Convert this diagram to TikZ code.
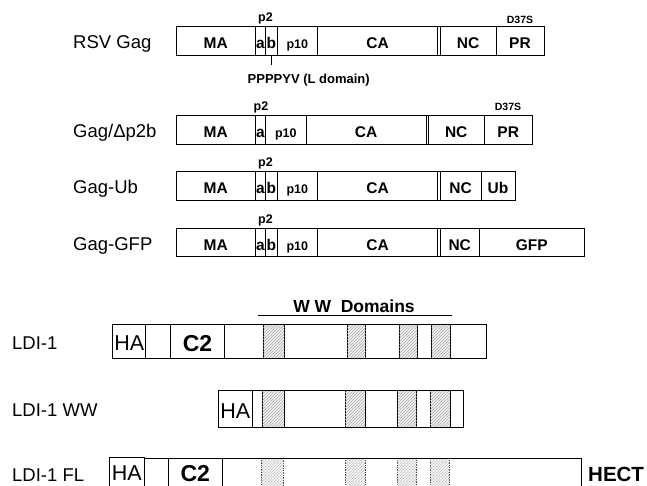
\documentclass[tikz,border=0pt]{standalone}
\usepackage{fontspec}
\setmainfont{Liberation Sans}
\usetikzlibrary{patterns}
\tikzset{
  box/.style={draw=black, line width=0.9pt},
  div/.style={draw=black, line width=0.75pt},
  seg/.style={font=\fontsize{15.5}{15.5}\selectfont\bfseries, inner sep=0pt, anchor=base},
  smalltxt/.style={font=\fontsize{12.5}{12.5}\selectfont\bfseries, inner sep=0pt, anchor=base},
  tinytxt/.style={font=\fontsize{10.5}{10.5}\selectfont\bfseries, inner sep=0pt, anchor=base},
  ldom/.style={font=\fontsize{13}{13}\selectfont\bfseries, inner sep=0pt, anchor=base},
  lab/.style={font=\fontsize{18.5}{18.5}\selectfont, inner sep=0pt, anchor=base west},
  hatxt/.style={font=\fontsize{21.5}{21.5}\selectfont, inner sep=0pt, anchor=base},
  bigtxt/.style={font=\fontsize{23}{23}\selectfont\bfseries, inner sep=0pt, anchor=base},
  wwtxt/.style={font=\fontsize{17.5}{17.5}\selectfont\bfseries, inner sep=0pt, anchor=base},
  hatch/.style={fill=gray!10, postaction={pattern=north east lines, pattern color=gray!65}},
  hatchbox/.style={hatch, draw=black, line width=0.9pt},
  hatchfl/.style={hatch, draw=gray!60!black, line width=0.7pt, densely dotted},
}
\begin{document}
\begin{tikzpicture}[x=1pt,y=-1pt]
\useasboundingbox (0,0) rectangle (647,486);
\clip (0,0) rectangle (647,486);

% ---------- Row 1: RSV Gag ----------
\draw[box] (176.5,26.5) rectangle (544,55.5);
\foreach \x in {255,265.7,277,317.7,437.5,440,496} \draw[div] (\x,26.5) -- (\x,55.5);
\node[lab] (l1) at (73,49) {RSV Gag};
\node[seg] (r1ma) at (215.75,49) {MA};
\node[seg] (r1a) at (260.35,49) {a};
\node[seg] (r1b) at (271.35,49) {b};
\node[smalltxt] (r1p10) at (297.35,49) {p10};
\node[seg] (r1ca) at (377.6,49) {CA};
\node[seg] (r1nc) at (468,49) {NC};
\node[seg] (r1pr) at (520,49) {PR};
\node[smalltxt] (r1p2) at (265.5,21.8) {p2};
\node[tinytxt] (r1d) at (520,23.5) {D37S};
\node[ldom] (ld) at (308.7,83.3) {PPPPYV (L domain)};
\coordinate (tkA) at (271.35,55.5);
\coordinate (tkB) at (271.35,65);
\draw[line width=0.6pt] (tkA) -- (tkB);

% ---------- Row 2: Gag/Dp2b ----------
\draw[box] (176.5,115) rectangle (532.5,144);
\foreach \x in {255,265.7,306,426,428.5,484} \draw[div] (\x,115) -- (\x,144);
\node[lab] (l2) at (73,137.5) {Gag/Δp2b};
\node[seg] (r2ma) at (215.75,137.5) {MA};
\node[seg] (r2a) at (260.35,137.5) {a};
\node[smalltxt] (r2p10) at (285.85,137.5) {p10};
\node[seg] (r2ca) at (366,137.5) {CA};
\node[seg] (r2nc) at (456.2,137.5) {NC};
\node[seg] (r2pr) at (508.25,137.5) {PR};
\node[smalltxt] (r2p2) at (261,111) {p2};
\node[tinytxt] (r2d) at (508,111) {D37S};

% ---------- Row 3: Gag-Ub ----------
\draw[box] (176.5,171) rectangle (515,200);
\foreach \x in {255,265.7,277,317.7,437.3,440,481} \draw[div] (\x,171) -- (\x,200);
\node[lab] (l3) at (73,193.5) {Gag-Ub};
\node[seg] (r3ma) at (215.75,193.5) {MA};
\node[seg] (r3a) at (260.35,193.5) {a};
\node[seg] (r3b) at (271.35,193.5) {b};
\node[smalltxt] (r3p10) at (297.35,193.5) {p10};
\node[seg] (r3ca) at (377.5,193.5) {CA};
\node[seg] (r3nc) at (460.5,193.5) {NC};
\node[seg] (r3ub) at (498,193.5) {Ub};
\node[smalltxt] (r3p2) at (265.5,167) {p2};

% ---------- Row 4: Gag-GFP ----------
\draw[box] (176.5,228) rectangle (584.3,256.5);
\foreach \x in {255,265.7,277,317.7,437.3,440,479.3} \draw[div] (\x,228) -- (\x,256.5);
\node[lab] (l4) at (73,250) {Gag-GFP};
\node[seg] (r4ma) at (215.75,250) {MA};
\node[seg] (r4a) at (260.35,250) {a};
\node[seg] (r4b) at (271.35,250) {b};
\node[smalltxt] (r4p10) at (297.35,250) {p10};
\node[seg] (r4ca) at (377.5,250) {CA};
\node[seg] (r4nc) at (459.7,250) {NC};
\node[seg] (r4gfp) at (531.8,250) {GFP};
\node[smalltxt] (r4p2) at (265.5,224) {p2};

% ---------- WW Domains ----------
\node[wwtxt] (ww) at (354,312.3) {W W\hspace{0.55em}Domains};
\coordinate (wwA) at (258.3,315.7);
\coordinate (wwB) at (451.7,315.7);
\draw[line width=1pt] (wwA) -- (wwB);

% ---------- LDI-1 ----------
\foreach \a/\b in {263.3/284.3,347.3/365.7,399.3/417.3,431.7/450.3}
  \draw[hatchbox] (\a,324) rectangle (\b,358.7);
\draw[box] (112.7,324) rectangle (486,358.7);
\foreach \x in {145.7,170.7,224.3} \draw[div] (\x,324) -- (\x,358.7);
\node[lab] (l5) at (12,349.3) {LDI-1};
\node[hatxt] (l5ha) at (129.2,350.7) {HA};
\node[bigtxt] (l5c2) at (197.5,351.7) {C2};

% ---------- LDI-1 WW ----------
\foreach \a/\b in {262.3/284,345/365,397.7/416.7,430/450}
  \draw[hatchbox] (\a,390.7) rectangle (\b,427.3);
\draw[box] (218.3,390.7) rectangle (463.3,427.3);
\draw[div] (252.3,390.7) -- (252.3,427.3);
\node[lab] (l6) at (12,416.7) {LDI-1 WW};
\node[hatxt] (l6ha) at (235.3,418.3) {HA};

% ---------- LDI-1 FL ----------
\foreach \a/\b in {261/283.3,345.7/365,397.3/416.7,430/449.3}
  \draw[hatchfl] (\a,458.3) rectangle (\b,500);
\draw[box] (109.3,457.5) rectangle (144,500);
\draw[box] (144,458.3) -- (581.7,458.3);
\foreach \x in {168.3,222.3,581.7} \draw[div] (\x,458.3) -- (\x,500);
\node[lab] (l7) at (12,481) {LDI-1 FL};
\node[hatxt] (l7ha) at (126.7,480.5) {HA};
\node[bigtxt] (l7c2) at (195.3,481.5) {C2};
\node[font=\fontsize{20.5}{20.5}\selectfont\bfseries, inner sep=0pt, anchor=base west] (hect) at (588,481.5) {HECT};
\end{tikzpicture}
\end{document}
